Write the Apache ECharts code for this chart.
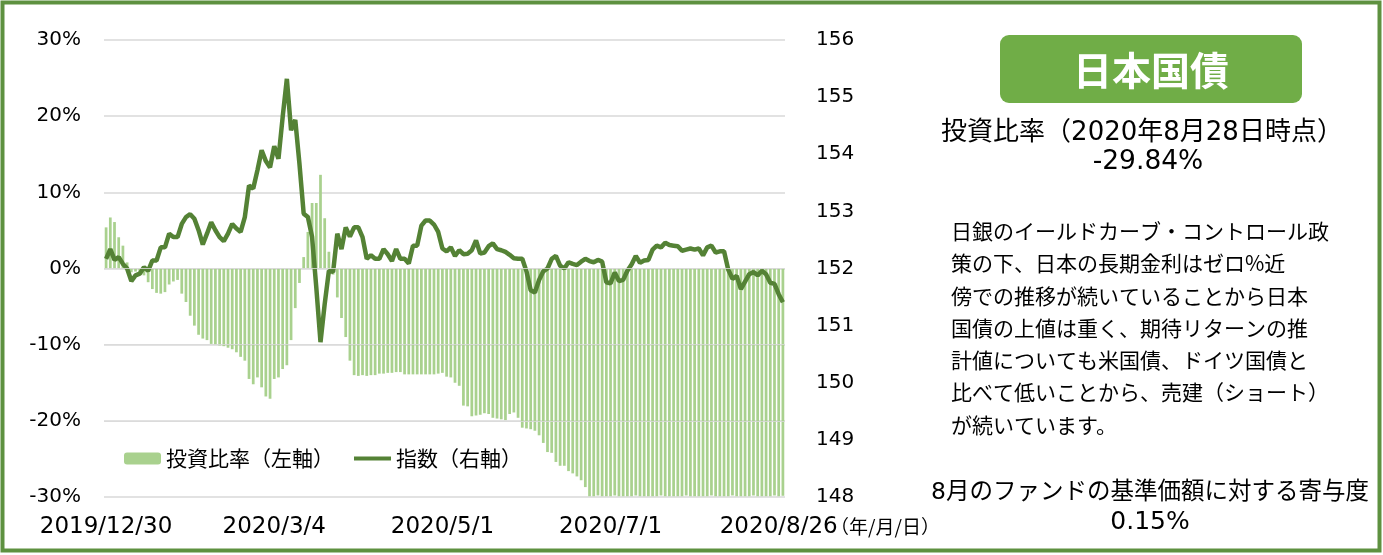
<!DOCTYPE html>
<html>
<head>
<meta charset="utf-8">
<script src="https://cdn.jsdelivr.net/npm/echarts@6/dist/echarts.min.js"></script>
<style>
  body { margin: 0; background: #fff; }
  #chart { width: 1383px; height: 555px; }
</style>
</head>
<body>
<div id="chart"></div>
<script>
// 投資比率（%）左軸
const ratio = [
  5.4, 6.7, 6.1, 4.1, 3.0, 0.8, -0.5, -0.4, -0.6, -0.9,
  -1.8, -2.7, -3.2, -3.3, -3.1, -2.1, -1.7, -1.5, -3.3, -4.4,
  -6.2, -7.5, -8.7, -9.2, -9.4, -9.9, -10.0, -10.1, -10.2, -10.4,
  -10.6, -11.0, -11.6, -12.1, -14.5, -15.2, -14.3, -15.6, -16.8, -17.1,
  -14.5, -14.3, -13.2, -12.7, -9.4, -5.2, -1.9, 1.5, 4.8, 8.6,
  8.6, 12.3, 6.6, 2.2, -0.8, -3.8, -6.5, -9.0, -12.1, -14.0,
  -14.1, -14.0, -14.1, -14.0, -14.0, -13.8, -13.8, -13.7, -13.7, -13.6,
  -13.6, -13.9, -13.9, -13.9, -13.9, -13.9, -13.9, -13.9, -13.9, -13.8,
  -13.7, -14.2, -14.3, -15.0, -15.4, -18.0, -18.1, -19.4, -19.3, -19.2,
  -19.0, -19.1, -19.6, -19.7, -19.8, -19.9, -19.1, -18.9, -19.6, -20.9,
  -21.0, -21.1, -21.3, -21.9, -22.9, -24.1, -24.2, -25.4, -25.9, -25.9,
  -26.6, -26.9, -27.3, -27.8, -28.7, -29.9, -29.9, -29.8, -29.9, -29.9,
  -29.9, -29.8, -29.9, -29.9, -29.9, -29.9, -29.8, -29.9, -29.9, -29.9,
  -29.9, -29.9, -29.8, -29.9, -29.9, -29.9, -29.9, -29.9, -29.8, -29.9,
  -29.9, -29.9, -29.9, -29.9, -29.8, -29.9, -29.9, -29.9, -29.9, -29.8,
  -29.9, -29.9, -29.9, -29.9, -29.8, -29.9, -29.9, -29.9, -29.9, -29.8,
  -29.9, -29.84
];

// 指数 右軸
const indexValues = [
  152.17, 152.34, 152.15, 152.20, 152.08, 152.00, 151.78, 151.88, 151.91, 152.02,
  151.96, 152.14, 152.14, 152.37, 152.37, 152.61, 152.55, 152.55, 152.78, 152.90,
  152.95, 152.87, 152.67, 152.42, 152.61, 152.81, 152.67, 152.55, 152.48, 152.61,
  152.78, 152.70, 152.64, 152.90, 153.45, 153.40, 153.72, 154.07, 153.88, 153.77,
  154.14, 153.92, 154.65, 155.32, 154.42, 154.60, 153.83, 152.96, 152.90, 152.55,
  151.67, 150.71, 151.38, 151.96, 151.94, 152.61, 152.34, 152.72, 152.56, 152.72,
  152.72, 152.55, 152.17, 152.23, 152.17, 152.17, 152.34, 152.25, 152.13, 152.34,
  152.17, 152.17, 152.09, 152.40, 152.40, 152.75, 152.84, 152.84, 152.77, 152.64,
  152.35, 152.30, 152.37, 152.22, 152.32, 152.25, 152.26, 152.32, 152.49, 152.26,
  152.28, 152.39, 152.44, 152.34, 152.32, 152.29, 152.24, 152.18, 152.17, 152.17,
  151.95, 151.62, 151.58, 151.80, 151.95, 152.00, 152.17, 152.22, 152.05, 152.00,
  152.11, 152.08, 152.06, 152.12, 152.17, 152.13, 152.11, 152.15, 152.12, 151.76,
  151.74, 151.93, 151.78, 151.80, 151.96, 152.07, 152.22, 152.10, 152.14, 152.15,
  152.33, 152.40, 152.37, 152.45, 152.41, 152.40, 152.39, 152.31, 152.33, 152.35,
  152.33, 152.35, 152.23, 152.37, 152.40, 152.28, 152.30, 152.30, 151.98, 151.82,
  151.87, 151.64, 151.77, 151.90, 151.94, 151.88, 151.96, 151.90, 151.75, 151.73,
  151.55, 151.41
];

// 横軸の目盛り（表示する位置と文字）
const tickIndex = [0, 40, 80, 120, 160];
const tickText = ['2019/12/30', '2020/3/4', '2020/5/1', '2020/7/1', '2020/8/26'];
const categories = ratio.map((_, i) => String(i));

// 右側の説明文
const noteLines = [
  '日銀のイールドカーブ・コントロール政',
  '策の下、日本の長期金利はゼロ%近',
  '傍での推移が続いていることから日本',
  '国債の上値は重く、期待リターンの推',
  '計値についても米国債、ドイツ国債と',
  '比べて低いことから、売建（ショート）',
  'が続いています。'
];

const FONT = '"Noto Sans CJK JP", "Noto Sans", sans-serif';
const NUM_FONT = '"DejaVu Sans", "Noto Sans CJK JP", sans-serif';
const GRID_COLOR = '#D9D9D9';
const LINE_COLOR = '#548235';

const chart = echarts.init(document.getElementById('chart'));

const graphics = [
  // 外枠
  {
    type: 'rect', silent: true,
    shape: { x: 2.5, y: 2.5, width: 1377, height: 548 },
    style: { fill: 'none', stroke: '#5E9140', lineWidth: 4 }
  },
  // タイトル
  {
    type: 'rect', silent: true,
    shape: { x: 1000, y: 35, width: 302, height: 68, r: 9 },
    style: { fill: '#70AD47' }
  },
  {
    type: 'text', silent: true, x: 1151, y: 70,
    style: { text: '日本国債', fill: '#fff', font: 'bold 39px ' + FONT, align: 'center', verticalAlign: 'middle' }
  },
  {
    type: 'text', silent: true, x: 1142, y: 133,
    style: { text: '投資比率（2020年8月28日時点）', fill: '#000', font: '26px ' + NUM_FONT, align: 'center', verticalAlign: 'middle' }
  },
  {
    type: 'text', silent: true, x: 1148, y: 162,
    style: { text: '-29.84%', fill: '#000', font: '26.5px ' + NUM_FONT, align: 'center', verticalAlign: 'middle' }
  },
  {
    type: 'text', silent: true, x: 1150, y: 493,
    style: { text: '8月のファンドの基準価額に対する寄与度', fill: '#000', font: '23.5px ' + NUM_FONT, align: 'center', verticalAlign: 'middle' }
  },
  {
    type: 'text', silent: true, x: 1150, y: 522,
    style: { text: '0.15%', fill: '#000', font: '25px ' + NUM_FONT, align: 'center', verticalAlign: 'middle' }
  },
  {
    type: 'text', silent: true, x: 830, y: 527,
    style: { text: '（年/月/日）', fill: '#000', font: '19px ' + FONT, align: 'left', verticalAlign: 'middle' }
  }
];

noteLines.forEach((line, k) => {
  graphics.push({
    type: 'text', silent: true, x: 951, y: 231 + k * 32.3,
    style: { text: line, fill: '#000', font: '21px ' + FONT, align: 'left', verticalAlign: 'middle' }
  });
});

chart.setOption({
  animation: false,
  backgroundColor: '#fff',
  textStyle: { fontFamily: FONT },
  grid: { left: 104, right: 598, top: 40, bottom: 58 },
  legend: {
    left: 119,
    top: 443,
    itemWidth: 37,
    itemHeight: 12,
    itemGap: 20,
    symbolKeepAspect: true,
    textStyle: { fontSize: 21, color: '#000', fontFamily: FONT },
    data: [
      { name: '投資比率（左軸）' },
      { name: '指数（右軸）', icon: 'path://M0,0H40V4.5H0Z', itemStyle: { color: LINE_COLOR } }
    ]
  },
  xAxis: {
    type: 'category',
    data: categories,
    boundaryGap: true,
    axisLine: { show: false, onZero: false },
    axisTick: { show: false },
    splitLine: { show: false },
    axisLabel: {
      margin: 19,
      fontSize: 23,
      fontFamily: NUM_FONT,
      color: '#000',
      interval: (i) => tickIndex.includes(i),
      formatter: (v, i) => {
        const k = tickIndex.indexOf(i);
        return k >= 0 ? tickText[k] : '';
      }
    }
  },
  yAxis: [
    {
      type: 'value',
      min: -30, max: 30, interval: 10,
      position: 'left',
      axisLine: { show: false },
      axisTick: { show: false },
      axisLabel: { margin: 23, fontSize: 20, fontFamily: NUM_FONT, color: '#000', formatter: '{value}%' },
      splitLine: { lineStyle: { color: GRID_COLOR, width: 1.5 } }
    },
    {
      type: 'value',
      min: 148, max: 156, interval: 1,
      position: 'right',
      axisLine: { show: false },
      axisTick: { show: false },
      axisLabel: { margin: 31, fontSize: 20, fontFamily: NUM_FONT, color: '#000' },
      splitLine: { show: false }
    }
  ],
  series: [
    {
      name: '投資比率（左軸）',
      type: 'bar',
      yAxisIndex: 0,
      data: ratio,
      barWidth: '65%',
      itemStyle: { color: '#A9D18E' },
      markLine: {
        silent: true,
        symbol: 'none',
        label: { show: false },
        lineStyle: { color: GRID_COLOR, width: 1.2, type: 'solid', opacity: 0.8 },
        data: [{ yAxis: -10 }, { yAxis: -20 }, { yAxis: 0 }]
      }
    },
    {
      name: '指数（右軸）',
      type: 'line',
      yAxisIndex: 1,
      data: indexValues,
      symbol: 'none',
      lineStyle: { color: LINE_COLOR, width: 4.5 },
      itemStyle: { color: LINE_COLOR }
    }
  ],
  graphic: graphics
});
</script>
</body>
</html>
